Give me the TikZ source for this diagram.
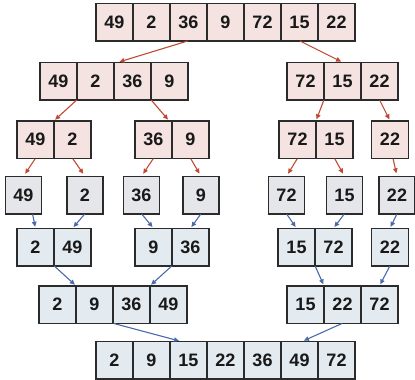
\documentclass[tikz,border=0pt]{standalone}
\usepackage{fontspec}
\setmainfont{Liberation Sans}
\usetikzlibrary{arrows.meta}
\definecolor{pinkfill}{HTML}{F4E3E0}
\definecolor{greyfill}{HTML}{E4E6E9}
\definecolor{bluefill}{HTML}{E3EAF0}
\definecolor{redarrow}{HTML}{BF4A33}
\definecolor{bluearrow}{HTML}{4A6AAA}
\definecolor{boxline}{HTML}{2B2B2B}
\tikzset{
  cell/.style={draw=boxline, line width=1.5pt, minimum width=37pt, minimum height=37.5pt,
    inner sep=0pt, outer sep=0pt, font=\fontsize{18}{18}\selectfont\bfseries, text=black!90},
  pk/.style={cell, fill=pinkfill},
  gr/.style={cell, fill=greyfill, minimum width=36pt},
  bl/.style={cell, fill=bluefill},
  split/.style={draw=redarrow, line width=1.1pt, -{Triangle[length=5pt,width=4.5pt]}, shorten >=1.5pt, shorten <=0.5pt},
  merge/.style={draw=bluearrow, line width=1.1pt, -{Triangle[length=5pt,width=4.5pt]}, shorten >=1.5pt, shorten <=0.5pt}
}
\begin{document}
\begin{tikzpicture}[x=1pt,y=-1pt]
\useasboundingbox (0,0) rectangle (415,380);
% row 1
\foreach \i/\x/\t in {1/114.5/49,2/151.5/2,3/188.5/36,4/225.5/9,5/262.5/72,6/299.5/15,7/336.5/22}
  \node[pk] (r1c\i) at (\x,22) {\t};
% row 2
\foreach \i/\x/\t in {1/58.5/49,2/95.5/2,3/132.5/36,4/169.5/9}
  \node[pk] (r2a\i) at (\x,81) {\t};
\foreach \i/\x/\t in {1/305.5/72,2/342.5/15,3/379.5/22}
  \node[pk] (r2b\i) at (\x,81) {\t};
% row 3
\node[pk] (r3a1) at (35.5,139.5) {49};
\node[pk] (r3a2) at (72.5,139.5) {2};
\node[pk] (r3b1) at (153.5,139.5) {36};
\node[pk] (r3b2) at (190.5,139.5) {9};
\node[pk] (r3c1) at (297.5,139.5) {72};
\node[pk] (r3c2) at (334.5,139.5) {15};
\node[pk] (r3d1) at (390,139.5) {22};
% row 4
\node[gr] (r4a) at (23.5,195) {49};
\node[gr] (r4b) at (85,195) {2};
\node[gr] (r4c) at (141.5,195) {36};
\node[gr] (r4d) at (201,195) {9};
\node[gr] (r4e) at (286.5,195) {72};
\node[gr] (r4f) at (344.5,195) {15};
\node[gr] (r4g) at (397,195) {22};
% row 5
\node[bl] (r5a1) at (35.5,247) {2};
\node[bl] (r5a2) at (72.5,247) {49};
\node[bl] (r5b1) at (153.5,247) {9};
\node[bl] (r5b2) at (190.5,247) {36};
\node[bl] (r5c1) at (296.5,247) {15};
\node[bl] (r5c2) at (333.5,247) {72};
\node[bl] (r5d1) at (390,247) {22};
% row 6
\foreach \i/\x/\t in {1/57.5/2,2/94.5/9,3/131.5/36,4/168.5/49}
  \node[bl] (r6a\i) at (\x,304.5) {\t};
\foreach \i/\x/\t in {1/305.5/15,2/342.5/22,3/379.5/72}
  \node[bl] (r6b\i) at (\x,304.5) {\t};
% row 7
\foreach \i/\x/\t in {1/114.5/2,2/151.5/9,3/188.5/15,4/225.5/22,5/262.5/36,6/299.5/49,7/336.5/72}
  \node[bl] (r7c\i) at (\x,360) {\t};
% split arrows
\draw[split] (r1c3.south) -- ([xshift=4pt]r2a3.north west);
\draw[split] (r1c6.south) -- (r2b2.north);
\draw[split] (r2a1.south east) -- (r3a1.north east);
\draw[split] (r2a3.south east) -- ([xshift=-3pt]r3b1.north east);
\draw[split] (r2b1.south east) -- (r3c1.north east);
\draw[split] (r2b3.south) -- (r3d1.north);
\draw[split,shorten >=3pt] (r3a1.south) -- (r4a.north);
\draw[split,shorten >=3pt] (r3a2.south) -- (r4b.north);
\draw[split,shorten >=3pt] (r3b1.south) -- (r4c.north);
\draw[split,shorten >=3pt] (r3b2.south) -- (r4d.north);
\draw[split,shorten >=3pt] (r3c1.south) -- (r4e.north);
\draw[split,shorten >=3pt] (r3c2.south) -- (r4f.north);
\draw[split,shorten >=3pt] ([xshift=3pt]r3d1.south) -- (r4g.north);
% merge arrows
\draw[merge] ([xshift=9pt]r4a.south) -- (r5a1.north);
\draw[merge] (r4b.south) -- (r5a2.north);
\draw[merge] (r4c.south) -- (r5b1.north);
\draw[merge] (r4d.south) -- (r5b2.north);
\draw[merge] (r4e.south) -- (r5c1.north);
\draw[merge] (r4f.south) -- (r5c2.north);
\draw[merge] (r4g.south) -- (r5d1.north);
\draw[merge] (r5a1.south east) -- (r6a2.north west);
\draw[merge] (r5b1.south east) -- (r6a4.north west);
\draw[merge] (r5c1.south east) -- (r6b1.north east);
\draw[merge] (r5d1.south) -- (r6b3.north);
\draw[merge] (r6a2.south east) -- ([xshift=-8pt]r7c3.north);
\draw[merge] (r6b2.south) -- ([xshift=3pt]r7c6.north);
\end{tikzpicture}
\end{document}
